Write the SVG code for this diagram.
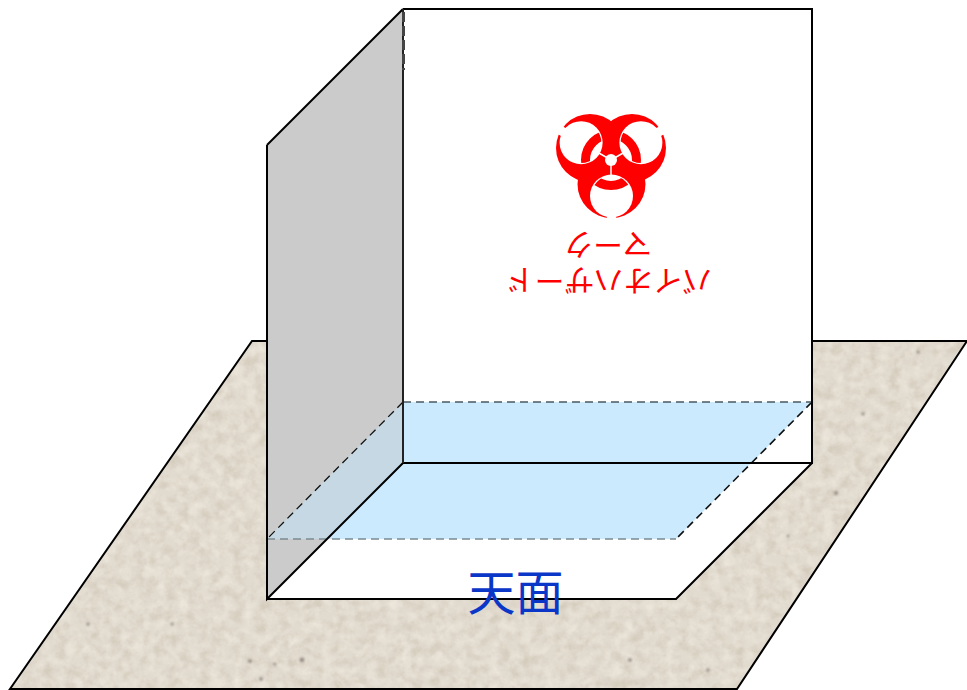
<svg xmlns="http://www.w3.org/2000/svg" width="967" height="690" viewBox="0 0 967 690">
<defs>
<filter id="stone" x="0" y="0" width="100%" height="100%" color-interpolation-filters="sRGB">
<feTurbulence type="fractalNoise" baseFrequency="0.09" numOctaves="4" seed="11" result="n"/>
<feColorMatrix in="n" type="matrix" values="0 0 0 0 0.78  0 0 0 0 0.74  0 0 0 0 0.66  1.1 0 0 0 -0.42" result="soft"/>
<feColorMatrix in="n" type="matrix" values="0 0 0 0 0.96  0 0 0 0 0.94  0 0 0 0 0.90  0 1.1 0 0 -0.42" result="pale"/>
<feMerge result="m"><feMergeNode in="SourceGraphic"/><feMergeNode in="soft"/><feMergeNode in="pale"/></feMerge>
<feComposite in="m" in2="SourceAlpha" operator="in"/>
</filter>
<filter id="soft-dot" x="-100%" y="-100%" width="300%" height="300%"><feGaussianBlur stdDeviation="0.9"/></filter>
<clipPath id="inners">
<circle cx="611.500" cy="196" r="20.300"/>
<circle cx="581.100" cy="142.700" r="20.300"/>
<circle cx="640.900" cy="142.700" r="20.300"/>
</clipPath>
</defs>
<style>
.edge{fill:none;stroke:#000;stroke-width:2;stroke-linejoin:miter}
.dash{fill:none;stroke-dasharray:8 5}
.red{fill:#f00}
.wht{fill:#fff}
.slit{stroke:#fff;stroke-width:1.500;fill:none}
.gap{stroke:#fff;stroke-width:9;fill:none}
.lab{font-family:"Noto Sans CJK JP","Liberation Sans",sans-serif}
.speck{fill:#77706a;opacity:.65;filter:url(#soft-dot)}
</style>
<g id="floor">
<polygon points="252,341 967,341 737,689 10,689" fill="#e1dacf" filter="url(#stone)"/>
<circle class="speck" cx="250" cy="661" r="2"/>
<circle class="speck" cx="302" cy="660" r="2.400"/>
<circle class="speck" cx="275" cy="664" r="1.500"/>
<circle class="speck" cx="261" cy="679" r="2"/>
<circle class="speck" cx="172" cy="624" r="1.500"/>
<circle class="speck" cx="88" cy="624" r="1.800"/>
<circle class="speck" cx="630" cy="660" r="2"/>
<circle class="speck" cx="836" cy="493" r="2"/>
<circle class="speck" cx="863" cy="414" r="1.800"/>
<circle class="speck" cx="918" cy="352" r="1.800"/>
<circle class="speck" cx="708" cy="670" r="1.800"/>
<circle class="speck" cx="788" cy="536" r="1.500"/>
<polygon class="edge" points="252,341 967,341 737,689 10,689"/>
</g>
<g id="box">
<polygon points="403,9 812,9 812,463 403,463" fill="#fff"/>
<polygon points="403,9 267,145 267,599 403,463" fill="#cbcbcb"/>
<polygon points="403,463 812,463 676,599 267,599" fill="#fff"/>
</g>
<g id="plane">
<polygon points="403,402 812,402 676,539 328,539 403,463" fill="#cbeafd"/>
<polygon points="403,402 403,463 328,539 267,539" fill="#c6d8e4"/>
<path class="dash" stroke="#111" stroke-width="1.300" d="M403,402 L267,539"/>
<path class="dash" stroke="#111" stroke-width="1.600" d="M812,402 L676,539"/>
<path class="dash" stroke="#4a5a62" stroke-width="1.600" d="M403,402 H812"/>
<path class="dash" stroke="#7b8a90" stroke-width="1.300" d="M267,539 H676"/>
</g>
<g id="box-edges">
<path class="edge" d="M403,9 H812 V463 H403 M267,145 L403,9 M267,145 V599 L403,463 M267,599 H676 L812,463"/>
<path d="M403,9 V463" fill="none" stroke="#222" stroke-width="2"/>
<path d="M403.500,12 V70" fill="none" stroke="#444" stroke-width="3" stroke-dasharray="10 4"/>
</g>
<g id="biohazard-mark">
<circle class="red" cx="611.500" cy="184" r="34"/>
<circle class="red" cx="590" cy="148" r="34"/>
<circle class="red" cx="632" cy="148" r="34"/>
<circle class="wht" cx="611.500" cy="196" r="21.500"/>
<circle class="wht" cx="581.100" cy="142.700" r="21.500"/>
<circle class="wht" cx="640.900" cy="142.700" r="21.500"/>
<path class="gap" d="M611.500,205 V222 M572,137 L552,125.500 M650,137 L670,125.500"/>
<circle cx="611" cy="160" r="25.500" fill="none" stroke="#f00" stroke-width="9" clip-path="url(#inners)"/>
<circle class="wht" cx="611" cy="160" r="6"/>
<path class="slit" d="M611,160 V175 M611,160 L598,152.500 M611,160 L624,152.500"/>
</g>
<g id="biohazard-text" fill="#f00" class="lab" font-size="29.500" text-anchor="middle">
<text transform="translate(608 234) rotate(180)">マーク</text>
<text transform="translate(608.500 270) rotate(180)">バイオハザード</text>
</g>
<g id="label-top">
<text class="lab" x="515.500" y="610" font-size="48" fill="#0a37c8" text-anchor="middle">天面</text>
</g>
</svg>
